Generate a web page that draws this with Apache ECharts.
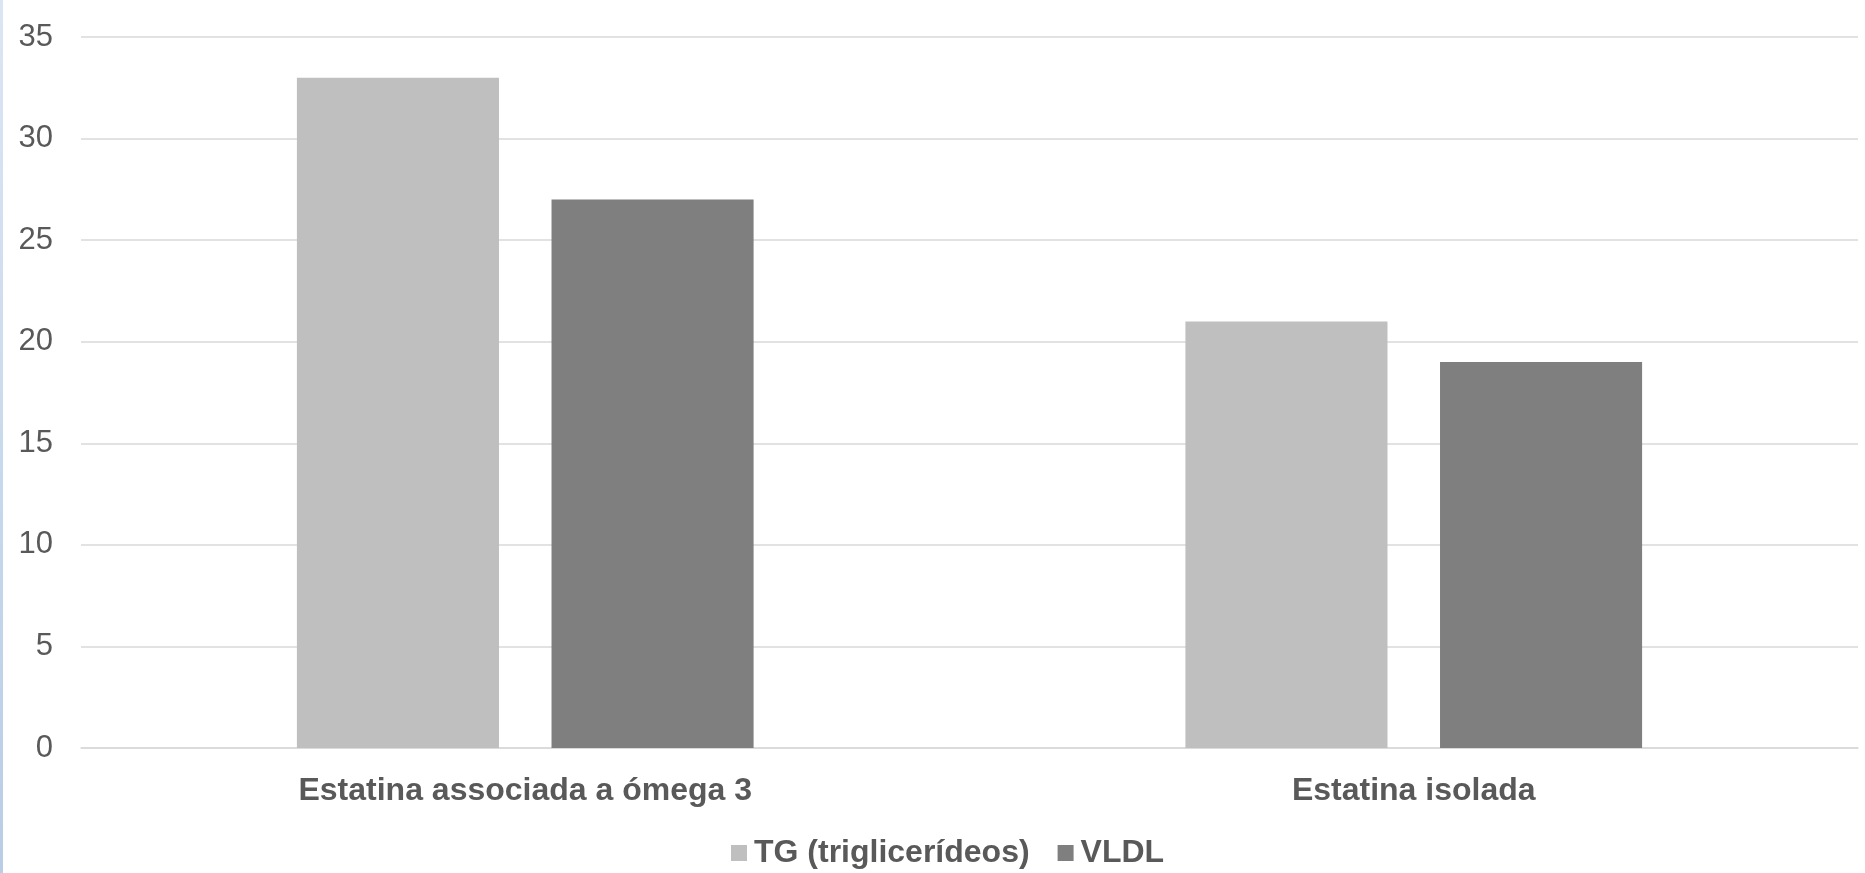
<!DOCTYPE html>
<html>
<head>
<meta charset="utf-8">
<script src="https://cdn.jsdelivr.net/npm/echarts@6/dist/echarts.min.js"></script>
<style>
  html, body { margin: 0; padding: 0; background: #fff; }
  #chart { width: 1865px; height: 873px; }
  .edge { position: absolute; left: 0; top: 0; width: 3px; height: 873px; background: linear-gradient(#dbe6f4, #b9cde6); }
</style>
</head>
<body>
<div id="chart"></div>
<div class="edge"></div>
<script>
const categories = ['Estatina associada a ómega 3', 'Estatina isolada']
const seriesNames = ['TG (triglicerídeos)', 'VLDL']
const tgValues = [33, 21]
const vldlValues = [27, 19]
const yTicks = { min: 0, max: 35, interval: 5 }

const textColor = '#595959'
const gridColor = '#d9d9d9'

const chart = echarts.init(document.getElementById('chart'))
chart.setOption({
  animation: false,
  grid: { left: 81, right: 7, top: 37, bottom: 125, containLabel: false },
  legend: {
    data: seriesNames,
    left: 726,
    top: 832,
    itemWidth: 16,
    itemHeight: 16,
    itemGap: 28,
    icon: 'rect',
    textStyle: {
      color: textColor, fontFamily: 'Liberation Sans', fontWeight: 'bold',
      fontSize: 32, lineHeight: 32, padding: [0, 0, 0, 2]
    }
  },
  xAxis: {
    type: 'category',
    data: categories,
    axisLine: { lineStyle: { color: gridColor, width: 1.5 } },
    axisTick: { show: false },
    axisLabel: {
      color: textColor, fontFamily: 'Liberation Sans', fontWeight: 'bold',
      fontSize: 32, margin: 27
    }
  },
  yAxis: {
    type: 'value',
    min: yTicks.min,
    max: yTicks.max,
    interval: yTicks.interval,
    axisLine: { show: false },
    axisTick: { show: false },
    splitLine: { lineStyle: { color: gridColor, width: 1.5 } },
    axisLabel: { color: textColor, fontFamily: 'Liberation Sans', fontSize: 31, margin: 28 }
  },
  series: [
    {
      name: seriesNames[0],
      type: 'bar',
      data: tgValues,
      itemStyle: { color: '#bfbfbf' },
      barGap: '26%',
      barCategoryGap: '48.6%'
    },
    {
      name: seriesNames[1],
      type: 'bar',
      data: vldlValues,
      itemStyle: { color: '#7f7f7f' }
    }
  ]
})
</script>
</body>
</html>
